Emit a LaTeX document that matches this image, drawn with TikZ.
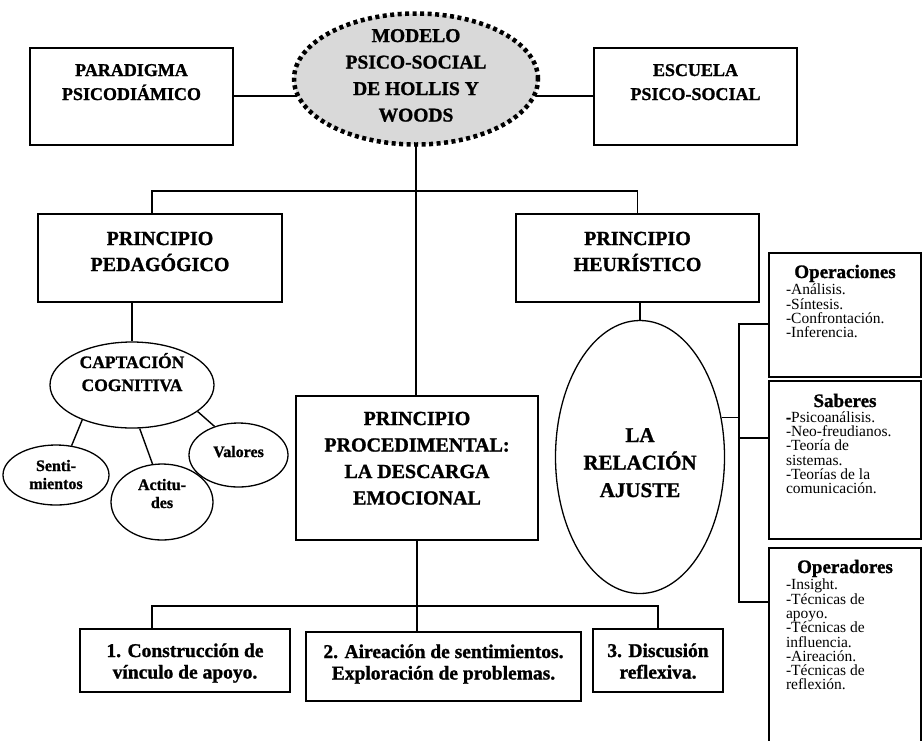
\documentclass[tikz,border=0pt]{standalone}
\usepackage{fontspec}
\setmainfont{Liberation Serif}[BoldFeatures={FakeBold=1.2}]
\usetikzlibrary{positioning,shapes.geometric}

\newcommand{\bloque}[2]{\raisebox{#1}[0pt][0pt]{\begin{tabular}[t]{@{}c@{}}#2\end{tabular}}}
\newcommand{\lista}[3]{\raisebox{#1}[0pt][0pt]{\parbox[t]{118pt}{\centering\bfseries\fontsize{19}{20}\selectfont #2\par\vspace{1pt}\raggedright\mdseries\fontsize{15.5}{14.3}\selectfont #3}}}

\begin{document}
\begin{tikzpicture}[x=1pt,y=-1pt,
	caja/.style={
		draw,
		rectangle,
		line width=1.6pt,
		inner sep=0pt,
		font=\bfseries\fontsize{20}{26}\selectfont
	},
	ovalo/.style={
		draw,
		ellipse,
		line width=1.3pt,
		inner sep=0pt,
		font=\bfseries\fontsize{20}{26}\selectfont
	},
	lista/.style={
		draw,
		rectangle,
		line width=1.6pt,
		inner sep=0pt,
		minimum width=152pt
	},
	linea/.style={line width=1.4pt}
	]
	\useasboundingbox (0,0) rectangle (923,740);
	\clip (0,0) rectangle (923,740);

	\node[ovalo, fill=black!15, line width=4.5pt, dash pattern=on 4pt off 3.5pt,
		minimum width=244pt, minimum height=131pt,
		font=\bfseries\fontsize{19.5}{26.5}\selectfont] (modelo) at (416,79)
	{\bloque{37pt}{MODELO\\PSICO-SOCIAL\\DE HOLLIS Y\\WOODS}};
	\node[caja, minimum width=203pt, minimum height=97pt,
		font=\bfseries\fontsize{18}{24}\selectfont] (paradigma) at (131.5,96.5)
	{\bloque{20.5pt}{PARADIGMA\\PSICODIÁMICO}};
	\node[caja, minimum width=203pt, minimum height=97pt,
		font=\bfseries\fontsize{18}{24}\selectfont] (escuela) at (695.5,96.5)
	{\bloque{20.5pt}{ESCUELA\\PSICO-SOCIAL}};

	\node[caja, minimum width=244pt, minimum height=88pt] (pedagogico) at (160,258)
	{\bloque{13pt}{PRINCIPIO\\PEDAGÓGICO}};
	\node[caja, minimum width=243pt, minimum height=88pt] (heuristico) at (637.5,258)
	{\bloque{13pt}{PRINCIPIO\\HEURÍSTICO}};
	\node[caja, minimum width=242pt, minimum height=144pt,
		font=\bfseries\fontsize{20}{26.5}\selectfont] (procedimental) at (417,468)
	{\bloque{43pt}{PRINCIPIO\\PROCEDIMENTAL:\\LA DESCARGA\\EMOCIONAL}};

	\node[ovalo, minimum width=164pt, minimum height=86pt,
		font=\bfseries\fontsize{17.5}{23}\selectfont] (captacion) at (132,385)
	{\bloque{17pt}{CAPTACIÓN\\COGNITIVA}};
	\node[ovalo, minimum width=106pt, minimum height=60pt,
		font=\bfseries\fontsize{16}{18}\selectfont] (sentimientos) at (56,475)
	{\bloque{4pt}{Senti-\\mientos}};
	\node[ovalo, minimum width=102pt, minimum height=76pt,
		font=\bfseries\fontsize{16}{18}\selectfont] (actitudes) at (162,502)
	{\bloque{12pt}{Actitu-\\des}};
	\node[ovalo, minimum width=99pt, minimum height=64pt,
		font=\bfseries\fontsize{16}{18}\selectfont] (valores) at (238.5,455)
	{\bloque{-2pt}{Valores}};

	\node[ovalo, minimum width=169pt, minimum height=273pt,
		font=\bfseries\fontsize{21}{27.5}\selectfont] (relacion) at (640,457)
	{\bloque{15pt}{LA\\RELACIÓN\\AJUSTE}};

	\node[caja, minimum width=210pt, minimum height=63pt,
		font=\bfseries\fontsize{19.5}{21.5}\selectfont] (vinculo) at (185,660.5)
	{\bloque{3.5pt}{1. Construcción de\\vínculo de apoyo.}};
	\node[caja, minimum width=275pt, minimum height=69pt,
		font=\bfseries\fontsize{19.5}{21.5}\selectfont] (aireacion) at (443.5,666.5)
	{\bloque{8.5pt}{2. Aireación de sentimientos.\\Exploración de problemas.}};
	\node[caja, minimum width=130pt, minimum height=63pt,
		font=\bfseries\fontsize{19.5}{21.5}\selectfont] (discusion) at (658,660.5)
	{\bloque{3.5pt}{3. Discusión\\reflexiva.}};

	\node[lista, minimum height=124pt] (operaciones) at (845,315)
	{\lista{37pt}{Operaciones}{-Análisis.\\-Síntesis.\\-Confrontación.\\-Inferencia.}};
	\node[lista, minimum height=158pt, below=2.4pt of operaciones] (saberes)
	{\lista{53pt}{Saberes}{\textbf{-}Psicoanálisis.\\-Neo-freudianos.\\-Teoría de\\sistemas.\\-Teorías de la\\comunicación.}};
	\node[lista, minimum height=212pt, below=7.4pt of saberes] (operadores)
	{\lista{81pt}{Operadores}{-Insight.\\-Técnicas de\\apoyo.\\-Técnicas de\\influencia.\\-Aireación.\\-Técnicas de\\reflexión.}};

	\coordinate (barraizq) at (152,191);
	\coordinate (barrabaja) at (417,606);
	\coordinate (ramaA) at (739,324);
	\coordinate (ramaB) at (739,438);
	\coordinate (ramaC) at (739,602);

	\draw[linea] (paradigma.east |- modelo.188) -- (modelo.188);
	\draw[linea] (modelo.-8) -- (modelo.-8 -| escuela.west);
	\draw[linea] (modelo.south) -- (modelo.south |- procedimental.north);
	\draw[linea] (barraizq |- pedagogico.north) -- (barraizq) -- (barraizq -| heuristico.north) -- (heuristico.north);
	\draw[linea] (captacion.north |- pedagogico.south) -- (captacion.north);
	\draw[linea] (relacion.north |- heuristico.south) -- (relacion.north);

	\draw[linea] (captacion.215) -- (sentimientos.62);
	\draw[linea] (captacion.280) -- (actitudes.104);
	\draw[linea] (captacion.338) -- (valores.130);

	\draw[linea] (procedimental.south) -- (procedimental.south |- aireacion.north);
	\draw[linea] (barraizq |- vinculo.north) -- (barraizq |- barrabaja) -- (discusion.north |- barrabaja) -- (discusion.north);

	\draw[linea] (ramaA -| operaciones.west) -- (ramaA) -- (ramaC) -- (ramaC -| operadores.west);
	\draw[linea] (ramaB) -- (ramaB -| saberes.west);
	\draw[linea] (relacion.26) -- (relacion.26 -| ramaB);
\end{tikzpicture}
\end{document}
